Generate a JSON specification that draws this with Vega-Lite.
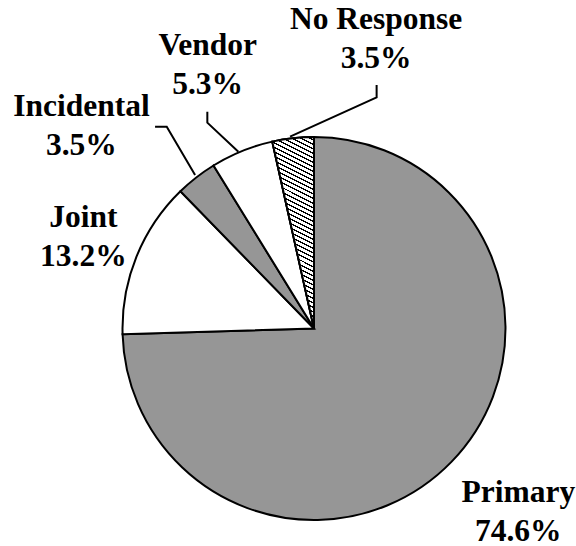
{
  "$schema": "https://vega.github.io/schema/vega-lite/v6.json",
  "width": 383,
  "height": 383,
  "autosize": {"type": "none"},
  "padding": {"left": 122.5, "top": 137, "right": 70.5, "bottom": 26},
  "background": "white",
  "config": {"view": {"stroke": null}, "text": {"font": "'Times New Roman', 'Liberation Serif', 'DejaVu Serif', serif"}},
  "data": {
    "values": [
      {"cat": "Primary", "share": 0.746, "label": "Primary\n74.6%"},
      {"cat": "Joint", "share": 0.132, "label": "Joint\n13.2%"},
      {"cat": "Incidental", "share": 0.035, "label": "Incidental\n3.5%"},
      {"cat": "Vendor", "share": 0.053, "label": "Vendor\n5.3%"},
      {"cat": "No Response", "share": 0.035, "label": "No Response\n3.5%"}
    ]
  },
  "transform": [{"window": [{"op": "row_number", "as": "row"}]}],
  "layer": [
    {
      "mark": {"type": "arc", "stroke": "#000", "strokeWidth": 2},
      "encoding": {
        "theta": {"field": "share", "type": "quantitative", "stack": true},
        "order": {"field": "row", "type": "quantitative"},
        "fill": {
          "field": "cat", "type": "nominal", "legend": null,
          "scale": {"domain": ["Primary", "Joint", "Incidental", "Vendor", "No Response"],
                    "range": ["#969696", "#ffffff", "#969696", "#ffffff", "#ffffff"]}
        }
      }
    },
    {
      "mark": {
        "type": "arc", "stroke": "#000", "strokeWidth": 2,
        "fill": {
          "gradient": "linear", "x1": 0, "y1": 1, "x2": 0.12, "y2": -0.1,
          "stops": [
            {"offset": 0, "color": "#000"}, {"offset": 0.007, "color": "#000"}, {"offset": 0.007, "color": "#fff"}, {"offset": 0.02128, "color": "#fff"},
            {"offset": 0.02128, "color": "#000"}, {"offset": 0.02828, "color": "#000"}, {"offset": 0.02828, "color": "#fff"}, {"offset": 0.04255, "color": "#fff"},
            {"offset": 0.04255, "color": "#000"}, {"offset": 0.04955, "color": "#000"}, {"offset": 0.04955, "color": "#fff"}, {"offset": 0.06383, "color": "#fff"},
            {"offset": 0.06383, "color": "#000"}, {"offset": 0.07083, "color": "#000"}, {"offset": 0.07083, "color": "#fff"}, {"offset": 0.08511, "color": "#fff"},
            {"offset": 0.08511, "color": "#000"}, {"offset": 0.09211, "color": "#000"}, {"offset": 0.09211, "color": "#fff"}, {"offset": 0.10638, "color": "#fff"},
            {"offset": 0.10638, "color": "#000"}, {"offset": 0.11338, "color": "#000"}, {"offset": 0.11338, "color": "#fff"}, {"offset": 0.12766, "color": "#fff"},
            {"offset": 0.12766, "color": "#000"}, {"offset": 0.13466, "color": "#000"}, {"offset": 0.13466, "color": "#fff"}, {"offset": 0.14894, "color": "#fff"},
            {"offset": 0.14894, "color": "#000"}, {"offset": 0.15594, "color": "#000"}, {"offset": 0.15594, "color": "#fff"}, {"offset": 0.17021, "color": "#fff"},
            {"offset": 0.17021, "color": "#000"}, {"offset": 0.17721, "color": "#000"}, {"offset": 0.17721, "color": "#fff"}, {"offset": 0.19149, "color": "#fff"},
            {"offset": 0.19149, "color": "#000"}, {"offset": 0.19849, "color": "#000"}, {"offset": 0.19849, "color": "#fff"}, {"offset": 0.21277, "color": "#fff"},
            {"offset": 0.21277, "color": "#000"}, {"offset": 0.21977, "color": "#000"}, {"offset": 0.21977, "color": "#fff"}, {"offset": 0.23404, "color": "#fff"},
            {"offset": 0.23404, "color": "#000"}, {"offset": 0.24104, "color": "#000"}, {"offset": 0.24104, "color": "#fff"}, {"offset": 0.25532, "color": "#fff"},
            {"offset": 0.25532, "color": "#000"}, {"offset": 0.26232, "color": "#000"}, {"offset": 0.26232, "color": "#fff"}, {"offset": 0.27660, "color": "#fff"},
            {"offset": 0.27660, "color": "#000"}, {"offset": 0.28360, "color": "#000"}, {"offset": 0.28360, "color": "#fff"}, {"offset": 0.29787, "color": "#fff"},
            {"offset": 0.29787, "color": "#000"}, {"offset": 0.30487, "color": "#000"}, {"offset": 0.30487, "color": "#fff"}, {"offset": 0.31915, "color": "#fff"},
            {"offset": 0.31915, "color": "#000"}, {"offset": 0.32615, "color": "#000"}, {"offset": 0.32615, "color": "#fff"}, {"offset": 0.34043, "color": "#fff"},
            {"offset": 0.34043, "color": "#000"}, {"offset": 0.34743, "color": "#000"}, {"offset": 0.34743, "color": "#fff"}, {"offset": 0.36170, "color": "#fff"},
            {"offset": 0.36170, "color": "#000"}, {"offset": 0.36870, "color": "#000"}, {"offset": 0.36870, "color": "#fff"}, {"offset": 0.38298, "color": "#fff"},
            {"offset": 0.38298, "color": "#000"}, {"offset": 0.38998, "color": "#000"}, {"offset": 0.38998, "color": "#fff"}, {"offset": 0.40426, "color": "#fff"},
            {"offset": 0.40426, "color": "#000"}, {"offset": 0.41126, "color": "#000"}, {"offset": 0.41126, "color": "#fff"}, {"offset": 0.42553, "color": "#fff"},
            {"offset": 0.42553, "color": "#000"}, {"offset": 0.43253, "color": "#000"}, {"offset": 0.43253, "color": "#fff"}, {"offset": 0.44681, "color": "#fff"},
            {"offset": 0.44681, "color": "#000"}, {"offset": 0.45381, "color": "#000"}, {"offset": 0.45381, "color": "#fff"}, {"offset": 0.46809, "color": "#fff"},
            {"offset": 0.46809, "color": "#000"}, {"offset": 0.47509, "color": "#000"}, {"offset": 0.47509, "color": "#fff"}, {"offset": 0.48936, "color": "#fff"},
            {"offset": 0.48936, "color": "#000"}, {"offset": 0.49636, "color": "#000"}, {"offset": 0.49636, "color": "#fff"}, {"offset": 0.51064, "color": "#fff"},
            {"offset": 0.51064, "color": "#000"}, {"offset": 0.51764, "color": "#000"}, {"offset": 0.51764, "color": "#fff"}, {"offset": 0.53191, "color": "#fff"},
            {"offset": 0.53191, "color": "#000"}, {"offset": 0.53891, "color": "#000"}, {"offset": 0.53891, "color": "#fff"}, {"offset": 0.55319, "color": "#fff"},
            {"offset": 0.55319, "color": "#000"}, {"offset": 0.56019, "color": "#000"}, {"offset": 0.56019, "color": "#fff"}, {"offset": 0.57447, "color": "#fff"},
            {"offset": 0.57447, "color": "#000"}, {"offset": 0.58147, "color": "#000"}, {"offset": 0.58147, "color": "#fff"}, {"offset": 0.59574, "color": "#fff"},
            {"offset": 0.59574, "color": "#000"}, {"offset": 0.60274, "color": "#000"}, {"offset": 0.60274, "color": "#fff"}, {"offset": 0.61702, "color": "#fff"},
            {"offset": 0.61702, "color": "#000"}, {"offset": 0.62402, "color": "#000"}, {"offset": 0.62402, "color": "#fff"}, {"offset": 0.63830, "color": "#fff"},
            {"offset": 0.63830, "color": "#000"}, {"offset": 0.64530, "color": "#000"}, {"offset": 0.64530, "color": "#fff"}, {"offset": 0.65957, "color": "#fff"},
            {"offset": 0.65957, "color": "#000"}, {"offset": 0.66657, "color": "#000"}, {"offset": 0.66657, "color": "#fff"}, {"offset": 0.68085, "color": "#fff"},
            {"offset": 0.68085, "color": "#000"}, {"offset": 0.68785, "color": "#000"}, {"offset": 0.68785, "color": "#fff"}, {"offset": 0.70213, "color": "#fff"},
            {"offset": 0.70213, "color": "#000"}, {"offset": 0.70913, "color": "#000"}, {"offset": 0.70913, "color": "#fff"}, {"offset": 0.72340, "color": "#fff"},
            {"offset": 0.72340, "color": "#000"}, {"offset": 0.73040, "color": "#000"}, {"offset": 0.73040, "color": "#fff"}, {"offset": 0.74468, "color": "#fff"},
            {"offset": 0.74468, "color": "#000"}, {"offset": 0.75168, "color": "#000"}, {"offset": 0.75168, "color": "#fff"}, {"offset": 0.76596, "color": "#fff"},
            {"offset": 0.76596, "color": "#000"}, {"offset": 0.77296, "color": "#000"}, {"offset": 0.77296, "color": "#fff"}, {"offset": 0.78723, "color": "#fff"},
            {"offset": 0.78723, "color": "#000"}, {"offset": 0.79423, "color": "#000"}, {"offset": 0.79423, "color": "#fff"}, {"offset": 0.80851, "color": "#fff"},
            {"offset": 0.80851, "color": "#000"}, {"offset": 0.81551, "color": "#000"}, {"offset": 0.81551, "color": "#fff"}, {"offset": 0.82979, "color": "#fff"},
            {"offset": 0.82979, "color": "#000"}, {"offset": 0.83679, "color": "#000"}, {"offset": 0.83679, "color": "#fff"}, {"offset": 0.85106, "color": "#fff"},
            {"offset": 0.85106, "color": "#000"}, {"offset": 0.85806, "color": "#000"}, {"offset": 0.85806, "color": "#fff"}, {"offset": 0.87234, "color": "#fff"},
            {"offset": 0.87234, "color": "#000"}, {"offset": 0.87934, "color": "#000"}, {"offset": 0.87934, "color": "#fff"}, {"offset": 0.89362, "color": "#fff"},
            {"offset": 0.89362, "color": "#000"}, {"offset": 0.90062, "color": "#000"}, {"offset": 0.90062, "color": "#fff"}, {"offset": 0.91489, "color": "#fff"},
            {"offset": 0.91489, "color": "#000"}, {"offset": 0.92189, "color": "#000"}, {"offset": 0.92189, "color": "#fff"}, {"offset": 0.93617, "color": "#fff"},
            {"offset": 0.93617, "color": "#000"}, {"offset": 0.94317, "color": "#000"}, {"offset": 0.94317, "color": "#fff"}, {"offset": 0.95745, "color": "#fff"},
            {"offset": 0.95745, "color": "#000"}, {"offset": 0.96445, "color": "#000"}, {"offset": 0.96445, "color": "#fff"}, {"offset": 0.97872, "color": "#fff"},
            {"offset": 0.97872, "color": "#000"}, {"offset": 0.98572, "color": "#000"}, {"offset": 0.98572, "color": "#fff"}, {"offset": 1, "color": "#fff"}
          ]
        }
      },
      "encoding": {
        "theta": {"field": "share", "type": "quantitative", "stack": true},
        "order": {"field": "row", "type": "quantitative"},
        "opacity": {"condition": {"test": "datum.cat === 'No Response'", "value": 1}, "value": 0}
      }
    },
    {
      "data": {
        "values": [
          {"cat": "Vendor", "seq": 1, "x": -0.557, "y": 1.132},
          {"cat": "Vendor", "seq": 2, "x": -0.557, "y": 1.075},
          {"cat": "Vendor", "seq": 3, "x": -0.395, "y": 0.923},
          {"cat": "Incidental", "seq": 1, "x": -0.830, "y": 1.054},
          {"cat": "Incidental", "seq": 2, "x": -0.769, "y": 1.054},
          {"cat": "Incidental", "seq": 3, "x": -0.621, "y": 0.802},
          {"cat": "No Response", "seq": 1, "x": 0.327, "y": 1.272},
          {"cat": "No Response", "seq": 2, "x": 0.327, "y": 1.207},
          {"cat": "No Response", "seq": 3, "x": -0.125, "y": 1.002}
        ]
      },
      "mark": {"type": "line", "stroke": "#000", "strokeWidth": 2},
      "encoding": {
        "x": {"field": "x", "type": "quantitative", "scale": {"domain": [-1, 1], "nice": false, "zero": false}, "axis": null},
        "y": {"field": "y", "type": "quantitative", "scale": {"domain": [-1, 1], "nice": false, "zero": false}, "axis": null},
        "detail": {"field": "cat", "type": "nominal"},
        "order": {"field": "seq", "type": "quantitative"}
      }
    },
    {
      "mark": {"type": "text", "fontWeight": "bold", "fontSize": 31.5, "lineHeight": 39, "lineBreak": "\n", "align": "center", "baseline": "alphabetic", "radius": 268, "dx": 12, "dy": -13},
      "encoding": {
        "theta": {"field": "share", "type": "quantitative", "stack": true},
        "order": {"field": "row", "type": "quantitative"},
        "text": {"condition": {"test": "datum.cat === 'Primary'", "field": "label"}, "value": ""}
      }
    },
    {
      "mark": {"type": "text", "fontWeight": "bold", "fontSize": 31.5, "lineHeight": 39, "lineBreak": "\n", "align": "center", "baseline": "alphabetic", "radius": 252, "dx": 3, "dy": -7},
      "encoding": {
        "theta": {"field": "share", "type": "quantitative", "stack": true},
        "order": {"field": "row", "type": "quantitative"},
        "text": {"condition": {"test": "datum.cat === 'Joint'", "field": "label"}, "value": ""}
      }
    },
    {
      "mark": {"type": "text", "fontWeight": "bold", "fontSize": 31.5, "lineHeight": 39, "lineBreak": "\n", "align": "center", "baseline": "alphabetic", "radius": 310, "dx": -42, "dy": 32},
      "encoding": {
        "theta": {"field": "share", "type": "quantitative", "stack": true},
        "order": {"field": "row", "type": "quantitative"},
        "text": {"condition": {"test": "datum.cat === 'Incidental'", "field": "label"}, "value": ""}
      }
    },
    {
      "mark": {"type": "text", "fontWeight": "bold", "fontSize": 31.5, "lineHeight": 39, "lineBreak": "\n", "align": "center", "baseline": "alphabetic", "radius": 293, "dx": 4, "dy": -2},
      "encoding": {
        "theta": {"field": "share", "type": "quantitative", "stack": true},
        "order": {"field": "row", "type": "quantitative"},
        "text": {"condition": {"test": "datum.cat === 'Vendor'", "field": "label"}, "value": ""}
      }
    },
    {
      "mark": {"type": "text", "fontWeight": "bold", "fontSize": 31.5, "lineHeight": 39, "lineBreak": "\n", "align": "center", "baseline": "alphabetic", "radius": 291, "dx": 94, "dy": -10},
      "encoding": {
        "theta": {"field": "share", "type": "quantitative", "stack": true},
        "order": {"field": "row", "type": "quantitative"},
        "text": {"condition": {"test": "datum.cat === 'No Response'", "field": "label"}, "value": ""}
      }
    }
  ]
}
